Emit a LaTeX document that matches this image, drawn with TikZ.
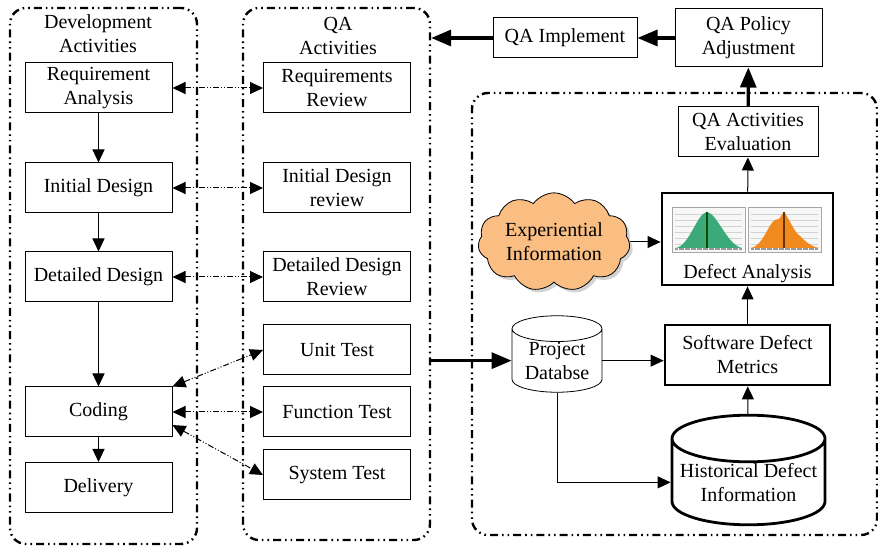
\documentclass[tikz,border=0pt]{standalone}
\usepackage{fontspec}
\setmainfont{Liberation Serif}
\usetikzlibrary{arrows.meta,shapes.geometric,shapes.symbols,shadows}

\definecolor{cloudfill}{RGB}{250,190,130}
\definecolor{bellgreen}{RGB}{60,170,120}
\definecolor{bellorange}{RGB}{240,138,30}

\begin{document}
\begin{tikzpicture}[x=0.5pt, y=-0.5pt, font=\fontsize{10}{12}\selectfont,
    activity/.style ={rectangle, draw, line width=0.5pt, minimum width=73.5pt, minimum height=25pt, align=center, inner sep=1pt},
    heavy/.style ={rectangle, draw, line width=1.4pt, align=center, inner sep=1pt},
    store/.style ={cylinder, shape border rotate=90, draw, align=center, inner sep=0pt, anchor=shape center},
    group/.style ={draw, line width=1.2pt, rounded corners=8pt, dash pattern=on 4pt off 2pt on 0.8pt off 2pt on 0.8pt off 2pt},
    link/.style ={line width=0.5pt, dash pattern=on 3pt off 1pt on 0.5pt off 1pt on 0.5pt off 1pt, {Triangle[length=6.5pt,width=6pt]}-{Triangle[length=6.5pt,width=6pt]}},
    flow/.style ={line width=0.5pt, -{Triangle[length=6.5pt,width=6pt]}},
    bold flow/.style ={line width=1.6pt, -{Triangle[length=10pt,width=8pt]}}]
   \useasboundingbox (0,0) rectangle (878,549);

   % dashed groups
   \node[group, minimum width=93.5pt, minimum height=268pt] (dev) at (103.5,276) {};
   \node[group, minimum width=93.5pt, minimum height=266pt] (qa) at (336.5,274) {};
   \node[group, minimum width=202.5pt, minimum height=221pt] (eval group) at (674.5,314) {};
   \node[align=center] (devtitle) at (98,34) {Development\\Activities};
   \node[align=center] (qatitle) at (338,36) {QA\\Activities};

   % development activities
   \node[activity] (req) at (98.5,88) {Requirement\\Analysis};
   \node[activity] (init) at (98.5,188) {Initial Design};
   \node[activity] (detail) at (98.5,277) {Detailed Design};
   \node[activity] (coding) at (98.5,412) {Coding};
   \node[activity] (delivery) at (98.5,487.5) {Delivery};

   % QA activities
   \node[activity] (rreview) at (337,88) {Requirements\\Review};
   \node[activity] (ireview) at (337,188) {Initial Design\\review};
   \node[activity] (dreview) at (337,277) {Detailed Design\\Review};
   \node[activity] (unit) at (337,350) {Unit Test};
   \node[activity] (func) at (337,412) {Function Test};
   \node[activity] (sys) at (337,475) {System Test};

   % QA policy loop
   \node[activity, minimum width=72pt, minimum height=20pt] (impl) at (565,38) {QA Implement};
   \node[activity, minimum height=29pt] (policy) at (748.5,38) {QA Policy\\Adjustment};
   \node[activity, minimum width=70pt] (evaluation) at (748,132) {QA Activities\\Evaluation};
   \node[heavy, minimum width=85.5pt, minimum height=46pt,
         label={[anchor=south, yshift=-1.5pt]south:Defect Analysis}] (analysis) at (747.5,239) {};
   \node[cloud, draw, fill=cloudfill, cloud puffs=11, cloud puff arc=110, aspect=1.7,
         minimum width=76pt, minimum height=45pt, align=center, inner sep=0pt,
         drop shadow={opacity=0.35, shadow xshift=1.5pt, shadow yshift=-1.5pt}] (cloud) at (554,242) {Experiential\\Information};
   \node[store, minimum width=45pt, minimum height=36pt, aspect=0.4] (db) at (557,354) {Project\\Databse};
   \node[heavy, minimum width=82.5pt, minimum height=30pt] (metrics) at (747.5,355) {Software Defect\\Metrics};
   \node[store, line width=1.4pt, minimum width=76.5pt, minimum height=52.5pt, aspect=0.34] (hist) at (748.5,470) {Historical Defect\\Information};

   % charts inside the defect analysis box
   \foreach \cx in {672, 748} {
      \draw[gray!70, fill=gray!6, line width=0.4pt] (\cx,207) rectangle ++(73,45);
      \foreach \hy in {214,220,226,232,238,244}
         \draw[gray!35, line width=0.3pt] (\cx+3,\hy) -- ++(67,0);
      \draw[gray!80, line width=1.2pt] (\cx+3,249) -- ++(67,0);
      \foreach \tx in {6,12,...,66}
         \draw[white, line width=0.3pt] (\cx+\tx,248) -- ++(0,2);
   }
   \fill[bellgreen] (676,248) .. controls (690,245) and (697,213) .. (707,212)
      .. controls (717,213) and (727,245) .. (742,248) -- cycle;
   \draw[black!70!green, line width=0.6pt] (707,212) -- (707,248);
   \fill[bellorange] (751,248) .. controls (763,246) and (768,224) .. (775,220)
      -- (779,219) -- (781,216) -- (784,212) .. controls (790,220) and (794,232) .. (800,236)
      .. controls (806,242) and (810,246) .. (819,248) -- cycle;
   \draw[black!60!orange, line width=0.6pt] (784,212) -- (784,248);

   % development flow
   \draw[flow] (req) -- (init);
   \draw[flow] (init) -- (detail);
   \draw[flow] (detail) -- (coding);
   \draw[flow] (coding) -- (delivery);

   % development <-> QA
   \draw[link] (req) -- (rreview);
   \draw[link] (init) -- (ireview);
   \draw[link] (detail) -- (dreview);
   \draw[link] (coding.north east) -- (unit.west);
   \draw[link] (coding) -- (func);
   \draw[link] (coding.-10) -- (sys.west);

   % defect data flow
   \draw[bold flow] (qa.east |- db.west) -- (db.west);
   \draw[flow] (db.east) -- (metrics.west |- db.east);
   \draw[flow] (db.south) |- (hist.west);
   \draw[flow] (hist) -- (metrics);
   \draw[flow] (metrics) -- (analysis);
   \draw[flow] (cloud.east) -- (analysis.west |- cloud.east);
   \draw[flow] (analysis) -- (evaluation);
   \draw[bold flow] (evaluation) -- (policy);
   \draw[bold flow] (policy) -- (impl);
   \draw[bold flow] (impl.west) -- (qa.east |- impl.west);
\end{tikzpicture}
\end{document}
